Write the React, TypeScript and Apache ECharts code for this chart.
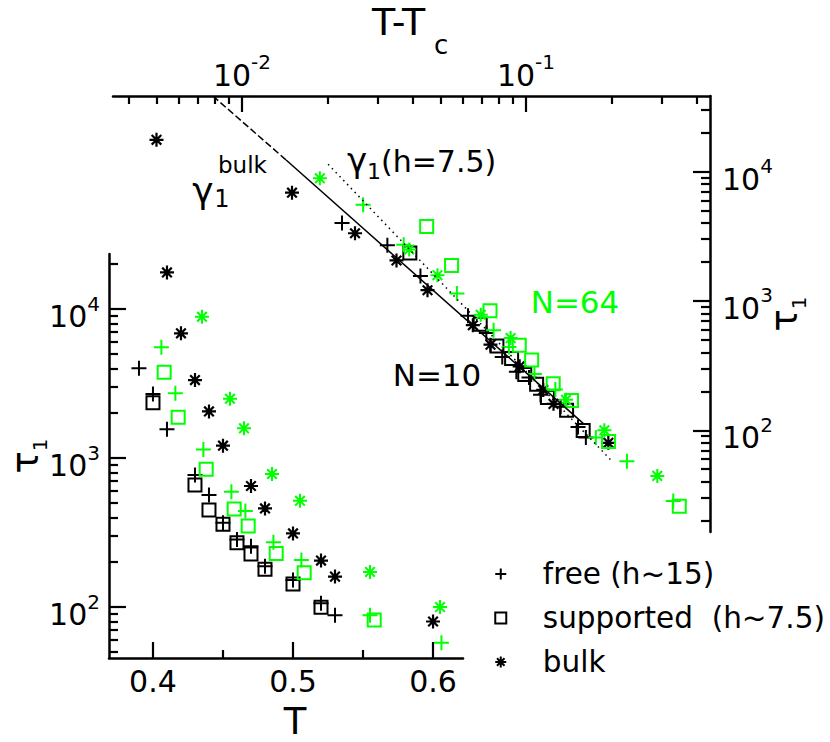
import React, { useEffect, useRef } from 'react';
import * as echarts from 'echarts';

const FONT = 'DejaVu Sans';
const GREEN = '#00ff00';
const BLACK = '#000000';

// ---------- inset (lower left): tau_1 versus T ----------
const freeN10T = [0.39, 0.40, 0.41, 0.43, 0.44, 0.45, 0.46, 0.47, 0.48, 0.50, 0.52, 0.53];
const freeN10Tau = [4000, 2690, 1560, 769, 565, 368, 284, 256, 188, 152, 106, 88];
const supN10T = [0.40, 0.43, 0.44, 0.45, 0.46, 0.47, 0.48, 0.50, 0.52];
const supN10Tau = [2350, 659, 448, 359, 270, 227, 179, 143, 99.5];
const bulkN10T = [0.41, 0.42, 0.43, 0.44, 0.45, 0.47, 0.48, 0.50, 0.52, 0.53, 0.60];
const bulkN10Tau = [17600, 6870, 3335, 2055, 1210, 649, 459, 312, 205, 160, 80];
const freeN64T = [0.406, 0.416, 0.436, 0.456, 0.466, 0.486, 0.506, 0.555, 0.606];
const freeN64Tau = [5530, 2716, 1143, 594, 441, 272, 207, 88, 57.5];
const supN64T = [0.408, 0.418, 0.438, 0.458, 0.468, 0.488, 0.508, 0.558];
const supN64Tau = [3760, 1875, 840, 455, 350, 229, 170, 82];
const bulkN64T = [0.435, 0.455, 0.465, 0.485, 0.505, 0.555, 0.605];
const bulkN64Tau = [8870, 2500, 1582, 781, 516, 172, 100];

// ---------- main plot: tau_1 versus T - Tc ----------
const freeN10dT = [0.0225, 0.0325, 0.0425, 0.0625, 0.0725, 0.0825, 0.0925, 0.1025, 0.1125, 0.1325, 0.1525, 0.1625];
const freeN10MainTau = [4000, 2690, 1560, 769, 565, 368, 284, 256, 188, 152, 106, 88];
const supN10dT = [0.039, 0.069, 0.079, 0.089, 0.099, 0.109, 0.119, 0.139, 0.159];
const supN10MainTau = [2350, 659, 448, 359, 270, 227, 179, 143, 99.5];
const bulkN10dT = [0.005, 0.015, 0.025, 0.035, 0.045, 0.065, 0.075, 0.095, 0.115, 0.125, 0.195];
const bulkN10MainTau = [17600, 6870, 3335, 2055, 1210, 649, 459, 312, 205, 160, 80];
const freeN64dT = [0.0267, 0.0371, 0.0571, 0.0769, 0.0871, 0.1071, 0.1269, 0.1762, 0.2267, 0.330];
const freeN64MainTau = [5530, 2716, 1143, 594, 441, 272, 207, 88, 57.5, 28.4];
const supN64dT = [0.0447, 0.0547, 0.0747, 0.0947, 0.1047, 0.1247, 0.1447, 0.1953, 0.3466];
const supN64MainTau = [3760, 1875, 840, 455, 350, 229, 170, 82, 25.9];
const bulkN64dT = [0.0188, 0.0388, 0.0488, 0.0693, 0.0883, 0.1383, 0.1888, 0.290];
const bulkN64MainTau = [8870, 2500, 1582, 781, 516, 172, 100, 44.4];

// fitted power laws
const bulkFitDashed = [[0.0079, 38400], [0.0143, 12290]];
const bulkFitSolid = [[0.0143, 12290], [0.159, 113]];
const slabFitDotted = [[0.0201, 11400], [0.201, 57.5]];

// ticks
const insetTMajor = [0.4, 0.5, 0.6];
const insetTMinor = [0.45, 0.55];
const insetTauMajor = [100, 1000, 10000];
const insetTauMinor = [50, 60, 70, 80, 90, 200, 300, 400, 500, 600, 700, 800, 900,
  2000, 3000, 4000, 5000, 6000, 7000, 8000, 9000, 20000];
const topMajor = [0.01, 0.1];
const topMinor = [0.004, 0.005, 0.006, 0.007, 0.008, 0.009, 0.02, 0.03, 0.04, 0.05, 0.06,
  0.07, 0.08, 0.09, 0.2, 0.3, 0.4];
const rightMajor = [100, 1000, 10000];
const rightMinor = [20, 30, 40, 50, 60, 70, 80, 90, 200, 300, 400, 500, 600, 700, 800, 900,
  2000, 3000, 4000, 5000, 6000, 7000, 8000, 9000, 20000, 30000];

const legendNames = ['free (h~15)', 'supported  (h~7.5)', 'bulk'];

const PLUS = 'path://M0,7H14M7,0V14';
const SQUARE = 'path://M0,0H12V12H0Z';
const STAR = 'path://M0,7H14M7,0V14M2.2,2.2L11.8,11.8M11.8,2.2L2.2,11.8';

const axisLine = { color: BLACK, width: 2.5 };
const tickLine = { color: BLACK, width: 2.2 };

const expLabel = (v: number) => `{b|10}{s|${Math.round(Math.log10(v))}}`;
const expRich = {
  b: { fontSize: 30, fontFamily: FONT, color: BLACK, verticalAlign: 'bottom', padding: [15, 0, 0, 0] },
  s: { fontSize: 20, fontFamily: FONT, color: BLACK, verticalAlign: 'top', padding: [7, 0, 0, 0] },
};
const tauRich = {
  t: { fontSize: 37, fontFamily: FONT, color: BLACK, verticalAlign: 'top', padding: [0, 0, 6, 0] },
  s: { fontSize: 20, fontFamily: FONT, color: BLACK, verticalAlign: 'bottom' },
};

function pairs(xs: number[], ys: number[]) {
  return xs.map((x, i) => [x, ys[i]]);
}

function scat(name: string, xs: number[], ys: number[], symbol: string, size: number, color: string, axis: number, bw = 2) {
  return {
    type: 'scatter',
    name,
    xAxisIndex: axis,
    yAxisIndex: axis,
    data: pairs(xs, ys),
    symbol,
    symbolSize: size,
    symbolKeepAspect: true,
    itemStyle: { color: 'transparent', borderColor: color, borderWidth: bw, opacity: 1 },
    emphasis: { disabled: true },
    silent: true,
  };
}

function fitLine(data: number[][], type: any, width: number) {
  return {
    type: 'line',
    xAxisIndex: 2,
    yAxisIndex: 2,
    data,
    showSymbol: false,
    symbol: 'none',
    lineStyle: { color: BLACK, width, type },
    emphasis: { disabled: true },
    silent: true,
  };
}

function txt(x: number, y: number, text: string, size: number, color = BLACK, align = 'center') {
  return {
    type: 'text',
    x,
    y,
    style: { text, fontSize: size, fontFamily: FONT, fill: color, align, verticalAlign: 'middle' },
  };
}

const insetGrid = { left: 109, top: 254, width: 354, height: 404, containLabel: false, outerBoundsMode: 'none' };
const mainGrid = { left: 113, top: 96, width: 597, height: 436, containLabel: false, outerBoundsMode: 'none' };

const option: any = {
  animation: false,
  backgroundColor: '#ffffff',
  grid: [insetGrid, { ...insetGrid }, mainGrid, { ...mainGrid }],
  xAxis: [
    {
      gridIndex: 0, type: 'value', min: 0.3686, max: 0.6214, position: 'bottom',
      name: 'T', nameLocation: 'middle', nameGap: 45, nameMoveOverlap: false,
      nameTextStyle: { fontSize: 37, fontFamily: FONT, color: BLACK, padding: [0, 0, 0, 18] },
      axisLine: { show: true, onZero: false, lineStyle: axisLine },
      axisTick: { show: true, inside: true, length: 16, customValues: insetTMajor, lineStyle: tickLine },
      axisLabel: { customValues: insetTMajor, formatter: (v: number) => v.toFixed(1), fontSize: 30, fontFamily: FONT, color: BLACK, margin: 8 },
      splitLine: { show: false },
    },
    {
      gridIndex: 1, type: 'value', min: 0.3686, max: 0.6214, position: 'bottom',
      axisLine: { show: false },
      axisTick: { show: true, inside: true, length: 8, customValues: insetTMinor, lineStyle: tickLine },
      axisLabel: { show: false },
      splitLine: { show: false },
    },
    {
      gridIndex: 2, type: 'log', logBase: 10, min: 0.003514, max: 0.4446, position: 'top',
      axisLine: { show: true, onZero: false, lineStyle: axisLine },
      axisTick: { show: true, inside: true, length: 16, customValues: topMajor, lineStyle: tickLine },
      axisLabel: { customValues: topMajor, formatter: expLabel, rich: expRich, margin: 6 },
      splitLine: { show: false },
    },
    {
      gridIndex: 3, type: 'log', logBase: 10, min: 0.003514, max: 0.4446, position: 'top',
      axisLine: { show: false },
      axisTick: { show: true, inside: true, length: 8, customValues: topMinor, lineStyle: tickLine },
      axisLabel: { show: false },
      splitLine: { show: false },
    },
  ],
  yAxis: [
    {
      gridIndex: 0, type: 'log', logBase: 10, min: 45.5, max: 23400, position: 'left',
      name: '{t|τ}{s|1}', nameLocation: 'middle', nameRotate: 90, nameGap: 59, nameMoveOverlap: false,
      nameTextStyle: { rich: tauRich },
      axisLine: { show: true, onZero: false, lineStyle: axisLine },
      axisTick: { show: true, inside: true, length: 17, customValues: insetTauMajor, lineStyle: tickLine },
      axisLabel: { customValues: insetTauMajor, formatter: expLabel, rich: expRich, margin: 9 },
      splitLine: { show: false },
    },
    {
      gridIndex: 1, type: 'log', logBase: 10, min: 45.5, max: 23400, position: 'left',
      axisLine: { show: false },
      axisTick: { show: true, inside: true, length: 9, customValues: insetTauMinor, lineStyle: tickLine },
      axisLabel: { show: false },
      splitLine: { show: false },
    },
    {
      gridIndex: 2, type: 'log', logBase: 10, min: 16.35, max: 38400, position: 'right',
      name: '{t|τ}{s|1}', nameLocation: 'middle', nameRotate: 90, nameGap: 56, nameMoveOverlap: false,
      nameTextStyle: { rich: tauRich },
      axisLine: { show: true, onZero: false, lineStyle: axisLine },
      axisTick: { show: true, inside: true, length: 17, customValues: rightMajor, lineStyle: tickLine },
      axisLabel: { customValues: rightMajor, formatter: expLabel, rich: expRich, margin: 12 },
      splitLine: { show: false },
    },
    {
      gridIndex: 3, type: 'log', logBase: 10, min: 16.35, max: 38400, position: 'right',
      axisLine: { show: false },
      axisTick: { show: true, inside: true, length: 9, customValues: rightMinor, lineStyle: tickLine },
      axisLabel: { show: false },
      splitLine: { show: false },
    },
  ],
  legend: {
    orient: 'vertical',
    right: 5,
    top: 559,
    padding: 0,
    itemWidth: 74,
    itemHeight: 11,
    itemGap: 14,
    symbolKeepAspect: true,
    selectedMode: false,
    textStyle: { fontSize: 29.5, fontFamily: FONT, color: BLACK },
    data: legendNames,
  },
  series: [
    fitLine(bulkFitDashed, [7, 3], 1.5),
    fitLine(bulkFitSolid, 'solid', 1.5),
    fitLine(slabFitDotted, [1.5, 4], 1.5),
    // inset
    scat(legendNames[0], freeN10T, freeN10Tau, PLUS, 15, BLACK, 0),
    scat(legendNames[1], supN10T, supN10Tau, SQUARE, 13, BLACK, 0),
    scat(legendNames[2], bulkN10T, bulkN10Tau, STAR, 14, BLACK, 0, 2.2),
    scat('free N=64', freeN64T, freeN64Tau, PLUS, 15, GREEN, 0),
    scat('supported N=64', supN64T, supN64Tau, SQUARE, 13, GREEN, 0),
    scat('bulk N=64', bulkN64T, bulkN64Tau, STAR, 14, GREEN, 0, 2),
    // main
    scat(legendNames[0], freeN10dT, freeN10MainTau, PLUS, 15, BLACK, 2),
    scat(legendNames[1], supN10dT, supN10MainTau, SQUARE, 13, BLACK, 2),
    scat(legendNames[2], bulkN10dT, bulkN10MainTau, STAR, 14, BLACK, 2, 2.2),
    scat('free N=64', freeN64dT, freeN64MainTau, PLUS, 15, GREEN, 2),
    scat('supported N=64', supN64dT, supN64MainTau, SQUARE, 13, GREEN, 2),
    scat('bulk N=64', bulkN64dT, bulkN64MainTau, STAR, 14, GREEN, 2, 2),
  ],
  graphic: [
    txt(372, 22, 'T-T', 38, BLACK, 'left'),
    txt(434, 45, 'c', 26, BLACK, 'left'),
    txt(203, 190, 'γ', 36),
    txt(222, 199, '1', 24),
    txt(218, 165, 'bulk', 23, BLACK, 'left'),
    txt(357, 160, 'γ', 34),
    txt(374, 171, '1', 22),
    txt(381, 161, '(h=7.5)', 30, BLACK, 'left'),
    txt(437, 375, 'N=10', 31),
    txt(575, 302, 'N=64', 31, GREEN),
  ],
};

export default function App() {
  const ref = useRef<HTMLDivElement>(null);
  useEffect(() => {
    const chart = echarts.init(ref.current as HTMLDivElement, null, { renderer: 'svg' });
    chart.setOption(option);
    return () => chart.dispose();
  }, []);
  return (
    <div
      ref={ref}
      style={{ position: 'absolute', left: 0, top: 0, width: 830, height: 742, background: '#fff' }}
    />
  );
}
